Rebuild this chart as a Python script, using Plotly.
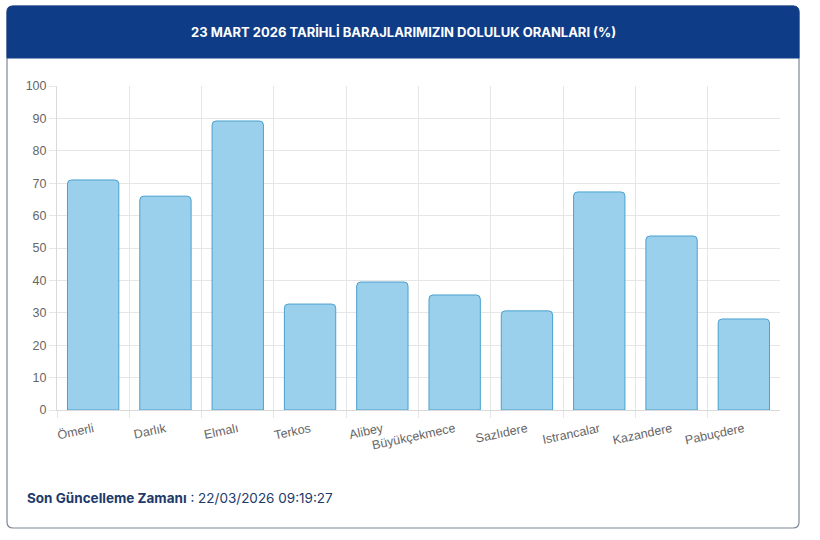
import plotly.graph_objects as go

categories = ["Ömerli", "Darlık", "Elmalı", "Terkos", "Alibey", "Büyükçekmece",
              "Sazlıdere", "Istrancalar", "Kazandere", "Pabuçdere"]
values = [71.0, 66.0, 89.2, 32.7, 39.5, 35.5, 30.6, 67.3, 53.7, 28.1]
y_ticks = [0, 10, 20, 30, 40, 50, 60, 70, 80, 90, 100]

title_text = "23 MART 2026 TARİHLİ BARAJLARIMIZIN DOLULUK ORANLARI (%)"
footer_label = "Son Güncelleme Zamanı"
footer_value = " : 22/03/2026 09:19:27"

W, H = 820, 540

def px(x):
    return x / W

def py(y):
    return 1 - y / H

fig = go.Figure()
fig.add_trace(go.Bar(
    x=categories, y=values,
    marker=dict(color="#9bd0ec", line=dict(color="#4aa0cf", width=1), cornerradius=4),
    hoverinfo="x+y",
))

def rounded_rect(x0, y0, x1, y1, r, top_only=False):
    X0, X1 = px(x0), px(x1)
    Y0, Y1 = py(y0), py(y1)
    rx, ry = r / W, r / H
    if top_only:
        return (f"M {X0},{Y1} L {X0},{Y0-ry} Q {X0},{Y0} {X0+rx},{Y0} "
                f"L {X1-rx},{Y0} Q {X1},{Y0} {X1},{Y0-ry} L {X1},{Y1} Z")
    return (f"M {X0+rx},{Y0} L {X1-rx},{Y0} Q {X1},{Y0} {X1},{Y0-ry} "
            f"L {X1},{Y1+ry} Q {X1},{Y1} {X1-rx},{Y1} L {X0+rx},{Y1} "
            f"Q {X0},{Y1} {X0},{Y1+ry} L {X0},{Y0-ry} Q {X0},{Y0} {X0+rx},{Y0} Z")

shapes = [
    dict(type="path", xref="paper", yref="paper", path=rounded_rect(7, 6, 799, 528, 6),
         line=dict(color="#7d8796", width=1.2), fillcolor="white", layer="below"),
    dict(type="path", xref="paper", yref="paper", path=rounded_rect(7, 6, 799, 58, 6, top_only=True),
         line=dict(color="#0f3c86", width=1), fillcolor="#0f3c86", layer="below"),
]

fig.update_layout(
    width=W, height=H,
    margin=dict(l=0, r=0, t=0, b=0, autoexpand=False),
    paper_bgcolor="white", plot_bgcolor="rgba(0,0,0,0)",
    showlegend=False,
    bargap=0.29,
    shapes=shapes,
    font=dict(family="Liberation Sans, Arial, sans-serif", size=12, color="#666666"),
    xaxis=dict(
        domain=[px(57), px(780)],
        type="category",
        tickson="boundaries",
        showgrid=True, gridcolor="#e6e6e6", gridwidth=1,
        ticks="outside", ticklen=7, tickcolor="#e6e6e6",
        showline=True, linecolor="#d9d9d9", linewidth=1,
        tickangle=-12,
        ticklabelstandoff=6,
        automargin=False,
        tickfont=dict(size=12.5, color="#666666"),
        fixedrange=True,
    ),
    yaxis=dict(
        domain=[py(410), py(86)],
        range=[0, 100],
        tickvals=y_ticks,
        showgrid=True, gridcolor="#e6e6e6", gridwidth=1,
        ticks="outside", ticklen=7, tickcolor="#e6e6e6",
        showline=True, linecolor="#d9d9d9", linewidth=1,
        zeroline=False,
        automargin=False,
        tickfont=dict(size=12.5, color="#666666"),
        fixedrange=True,
    ),
    annotations=[
        dict(xref="paper", yref="paper", x=px(403), y=py(32), text=f"<b>{title_text}</b>",
             showarrow=False, xanchor="center", yanchor="middle",
             font=dict(family="Inter, Noto Sans, sans-serif", size=13, color="white")),
        dict(xref="paper", yref="paper", x=px(25), y=py(498),
             text=f"<b>{footer_label}</b>{footer_value}",
             showarrow=False, xanchor="left", yanchor="middle",
             font=dict(family="Inter, Noto Sans, sans-serif", size=13.5, color="#1d3a6b")),
    ],
)

fig.write_html("out.html", config={"displayModeBar": False},
               post_script="document.body.style.margin='0';document.body.style.overflow='hidden';")
